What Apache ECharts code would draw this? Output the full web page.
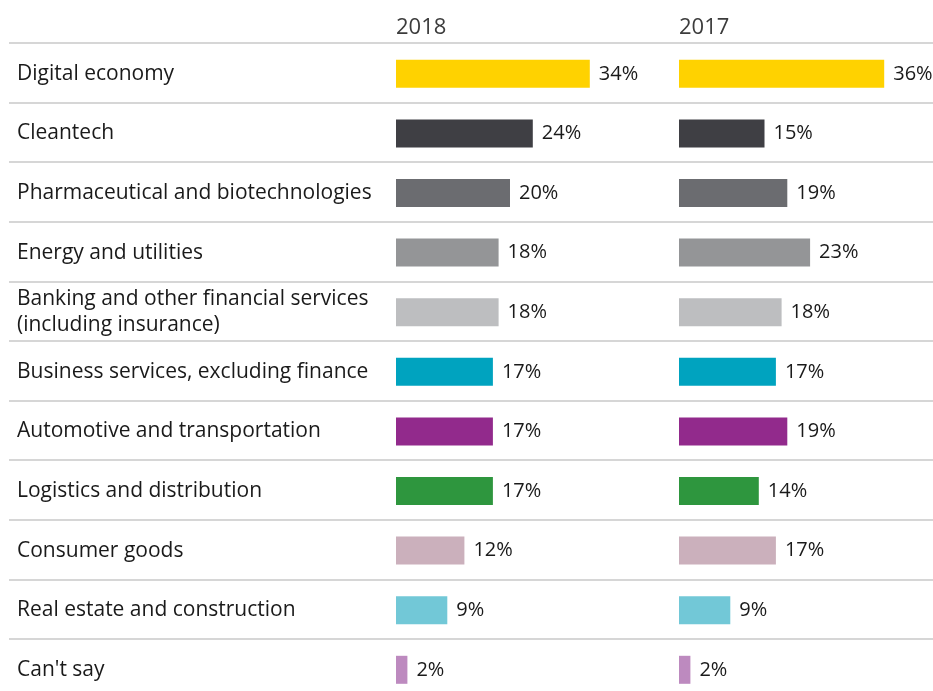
<!DOCTYPE html>
<html>
<head>
<meta charset="utf-8">
<title>Sectors</title>
<script src="https://cdn.jsdelivr.net/npm/echarts@6/dist/echarts.min.js"></script>
<style>
  html, body { margin: 0; padding: 0; background: #ffffff; }
  #chart { width: 933px; height: 691px; }
</style>
</head>
<body>
<div id="chart"></div>
<script>
// Sectors (top to bottom)
const categories = [
  'Digital economy',
  'Cleantech',
  'Pharmaceutical and biotechnologies',
  'Energy and utilities',
  'Banking and other financial services\n(including insurance)',
  'Business services, excluding finance',
  'Automotive and transportation',
  'Logistics and distribution',
  'Consumer goods',
  'Real estate and construction',
  "Can't say"
];
const years = ['2018', '2017'];
const values2018 = [34, 24, 20, 18, 18, 17, 17, 17, 12, 9, 2];
const values2017 = [36, 15, 19, 23, 18, 17, 19, 14, 17, 9, 2];
const barColors = [
  '#ffd200', '#3f3f44', '#6b6c70', '#949597', '#bdbec0',
  '#00a3bf', '#922a8c', '#2e963e', '#cbb0bc', '#72c8d7', '#bd8abf'
];

const FONT = '"Open Sans", "Noto Sans", sans-serif';
const ROW_H = 59.6;
const TOP = 43;
const PLOT_H = ROW_H * categories.length;
const panelLeft = [396, 679];
const PANEL_W = 228;   // 0–40% scale
const seriesValues = [values2018, values2017];

const chart = echarts.init(document.getElementById('chart'), null, { renderer: 'canvas' });

const grids = [
  // full-width grid carrying the row separator lines
  { left: 9, right: 0, top: TOP, height: PLOT_H, outerBoundsMode: 'none', containLabel: false }
];
const xAxes = [
  { gridIndex: 0, type: 'value', min: 0, max: 1, show: false }
];
const yAxes = [
  {
    gridIndex: 0, type: 'category', inverse: true, data: categories,
    axisLine: { show: false }, axisTick: { show: false }, axisLabel: { show: false },
    splitLine: { show: true, lineStyle: { color: '#c9c9c9', width: 1.5 } }
  }
];
const series = [];

panelLeft.forEach((left, i) => {
  const gi = i + 1;
  grids.push({ left: left, width: PANEL_W, top: TOP + 1, height: PLOT_H, outerBoundsMode: 'none' });
  xAxes.push({ gridIndex: gi, type: 'value', min: 0, max: 40, show: false });
  yAxes.push({
    gridIndex: gi, type: 'category', inverse: true, data: categories,
    axisLine: { show: false }, axisTick: { show: false }, splitLine: { show: false },
    axisLabel: i === 0 ? {
      show: true, align: 'left', margin: left - 17,
      color: '#1a1a1a', fontFamily: FONT, fontSize: 21, lineHeight: 26
    } : { show: false }
  });
  series.push({
    type: 'bar', xAxisIndex: gi, yAxisIndex: gi, barWidth: 28,
    data: seriesValues[i].map((v, k) => ({ value: v, itemStyle: { color: barColors[k] } })),
    label: {
      show: true, position: 'right', distance: 9,
      formatter: '{c}%', color: '#1a1a1a', fontFamily: FONT, fontSize: 20
    },
    animation: false
  });
});

// Year headers above each panel
const titles = years.map((y, i) => ({
  text: y, left: panelLeft[i], top: 17, padding: 0,
  textStyle: { color: '#3c3c3c', fontFamily: FONT, fontSize: 22, fontWeight: 'normal' }
}));

chart.setOption({
  backgroundColor: '#ffffff',
  animation: false,
  title: titles,
  grid: grids,
  xAxis: xAxes,
  yAxis: yAxes,
  series: series
});
</script>
</body>
</html>
